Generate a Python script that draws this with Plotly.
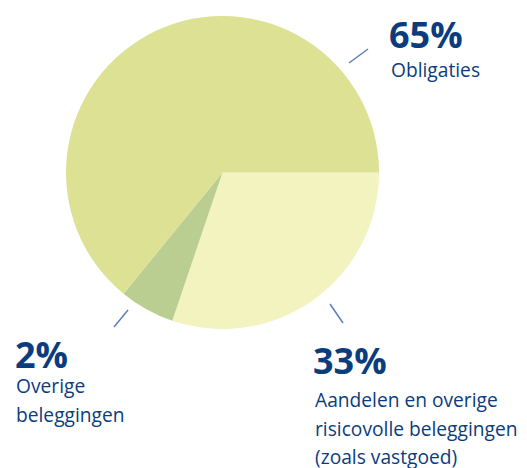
import plotly.graph_objects as go

# Slice values as drawn in the picture (clockwise from 3 o'clock)
categories = ["Aandelen en overige risicovolle beleggingen (zoals vastgoed)",
              "Overige beleggingen", "Obligaties"]
slice_values = [30.2, 5.7, 64.1]
slice_colors = ["#f2f3be", "#bbce91", "#dde193"]

# Label texts
pct_labels = ["33%", "2%", "65%"]
name_lines = [["Aandelen en overige", "risicovolle beleggingen", "(zoals vastgoed)"],
              ["Overige", "beleggingen"],
              ["Obligaties"]]

W, H = 527, 468
def px(x): return x / W
def py(y): return 1 - y / H

cx, cy, r = 222.5, 172.5, 156.5

fig = go.Figure(go.Pie(
    labels=categories, values=slice_values, sort=False,
    direction="clockwise", rotation=90,
    marker=dict(colors=slice_colors, line=dict(width=0)),
    textinfo="none", hoverinfo="skip", showlegend=False,
    domain=dict(x=[px(cx - r), px(cx + r)], y=[py(cy + r), py(cy - r)]),
))

navy = "#0b3c7d"
font_fam = "Open Sans"
annos = []
# (pct index, pct x, pct center y, name x, list of name center y)
placements = [
    (0, 311, 360.5, 313, [399, 428, 456]),
    (1, 13, 354, 14, [385, 414]),
    (2, 387, 34.5, 389, [69]),
]
for i, xp, yp, xn, yns in placements:
    annos.append(dict(x=px(xp), y=py(yp), xref="paper", yref="paper",
                      text="<b>" + pct_labels[i] + "</b>", showarrow=False,
                      xanchor="left", yanchor="middle",
                      font=dict(family=font_fam, size=36, color=navy)))
    for line, yn in zip(name_lines[i], yns):
        annos.append(dict(x=px(xn), y=py(yn), xref="paper", yref="paper",
                          text=line, showarrow=False,
                          xanchor="left", yanchor="middle",
                          font=dict(family=font_fam, size=19.2, color=navy)))

line_col = "#5b80b8"
leaders = [((349, 63), (368, 49)), ((128, 310), (114, 327)), ((330, 304), (343, 323))]
shapes = [dict(type="line", xref="paper", yref="paper",
               x0=px(a[0]), y0=py(a[1]), x1=px(b[0]), y1=py(b[1]),
               line=dict(color=line_col, width=1.5)) for a, b in leaders]

fig.update_layout(width=W, height=H, margin=dict(l=0, r=0, t=0, b=0),
                  paper_bgcolor="white", plot_bgcolor="white",
                  annotations=annos, shapes=shapes)
fig.write_html("out.html", config={"displayModeBar": False},
               post_script="document.body.style.margin='0';document.body.style.overflow='hidden';")
